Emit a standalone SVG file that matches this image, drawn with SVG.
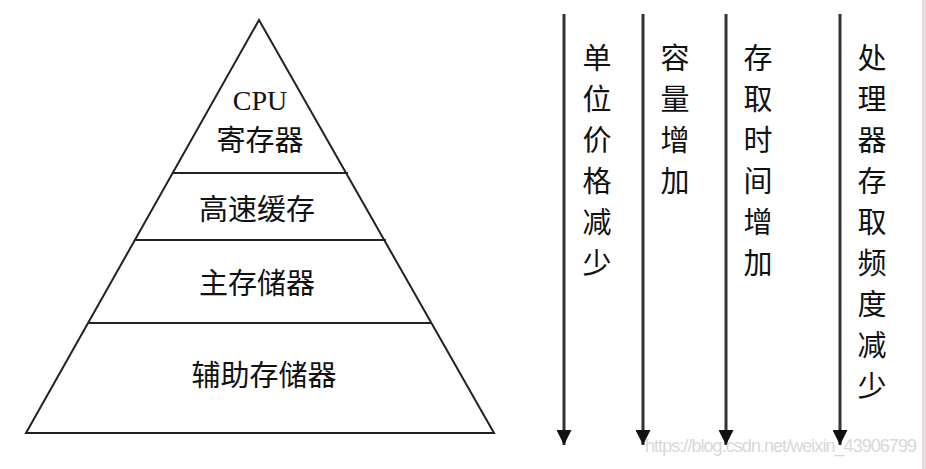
<svg xmlns="http://www.w3.org/2000/svg" width="926" height="469" viewBox="0 0 926 469">
<defs>
<style>
.ln{stroke:#222;stroke-width:2;fill:none}
.ar{stroke:#333;stroke-width:3;fill:none}
.t{font-family:"Liberation Sans","Noto Sans CJK SC",sans-serif;font-size:29px;fill:#111;text-anchor:middle}
.cpu{font-family:"Liberation Serif","Noto Sans CJK SC",serif;font-size:28px;fill:#111;text-anchor:middle}
.wm{font-family:"Liberation Sans",sans-serif;font-size:18px;fill:#d8d8d8}
</style>
<marker id="ah" viewBox="0 0 10 10" refX="10" refY="5" markerWidth="5" markerHeight="5" markerUnits="strokeWidth" orient="auto">
<path d="M0,0 L10,5 L0,10 z" fill="#111"/>
</marker>
</defs>
<rect width="926" height="469" fill="#fff"/>
<rect x="922" y="0" width="4" height="469" fill="#e8dcdc"/>
<g id="pyramid">
<path class="ln" d="M259,20 L494,433 L26,433 Z"/>
<line class="ln" x1="172" y1="173" x2="348" y2="173"/>
<line class="ln" x1="135" y1="240" x2="386" y2="240"/>
<line class="ln" x1="89" y1="323" x2="431" y2="323"/>
</g>
<g id="n-cpu">
<text class="cpu" x="260" y="110">CPU</text>
<text class="t" x="260" y="151">寄存器</text>
</g>
<g id="n-cache"><text class="t" x="257" y="220">高速缓存</text></g>
<g id="n-main"><text class="t" x="257" y="294">主存储器</text></g>
<g id="n-aux"><text class="t" x="264" y="386">辅助存储器</text></g>
<g id="connectors">
<line class="ar" x1="564" y1="14" x2="564" y2="445" marker-end="url(#ah)"/>
<line class="ar" x1="643" y1="14" x2="643" y2="445" marker-end="url(#ah)"/>
<line class="ar" x1="726" y1="14" x2="726" y2="445" marker-end="url(#ah)"/>
<line class="ar" x1="840" y1="14" x2="840" y2="445" marker-end="url(#ah)"/>
</g>
<g id="l-price"><text class="t" x="597" y="69"><tspan x="597">单</tspan><tspan x="597" dy="41">位</tspan><tspan x="597" dy="41">价</tspan><tspan x="597" dy="41">格</tspan><tspan x="597" dy="41">减</tspan><tspan x="597" dy="41">少</tspan></text></g>
<g id="l-cap"><text class="t" x="675" y="69"><tspan x="675">容</tspan><tspan x="675" dy="41">量</tspan><tspan x="675" dy="41">增</tspan><tspan x="675" dy="41">加</tspan></text></g>
<g id="l-time"><text class="t" x="758" y="69"><tspan x="758">存</tspan><tspan x="758" dy="41">取</tspan><tspan x="758" dy="41">时</tspan><tspan x="758" dy="41">间</tspan><tspan x="758" dy="41">增</tspan><tspan x="758" dy="41">加</tspan></text></g>
<g id="l-freq"><text class="t" x="872" y="69"><tspan x="872">处</tspan><tspan x="872" dy="41">理</tspan><tspan x="872" dy="41">器</tspan><tspan x="872" dy="41">存</tspan><tspan x="872" dy="41">取</tspan><tspan x="872" dy="41">频</tspan><tspan x="872" dy="41">度</tspan><tspan x="872" dy="41">减</tspan><tspan x="872" dy="41">少</tspan></text></g>
<text class="wm" x="645" y="452" textLength="272">https://blog.csdn.net/weixin_43906799</text>
</svg>
